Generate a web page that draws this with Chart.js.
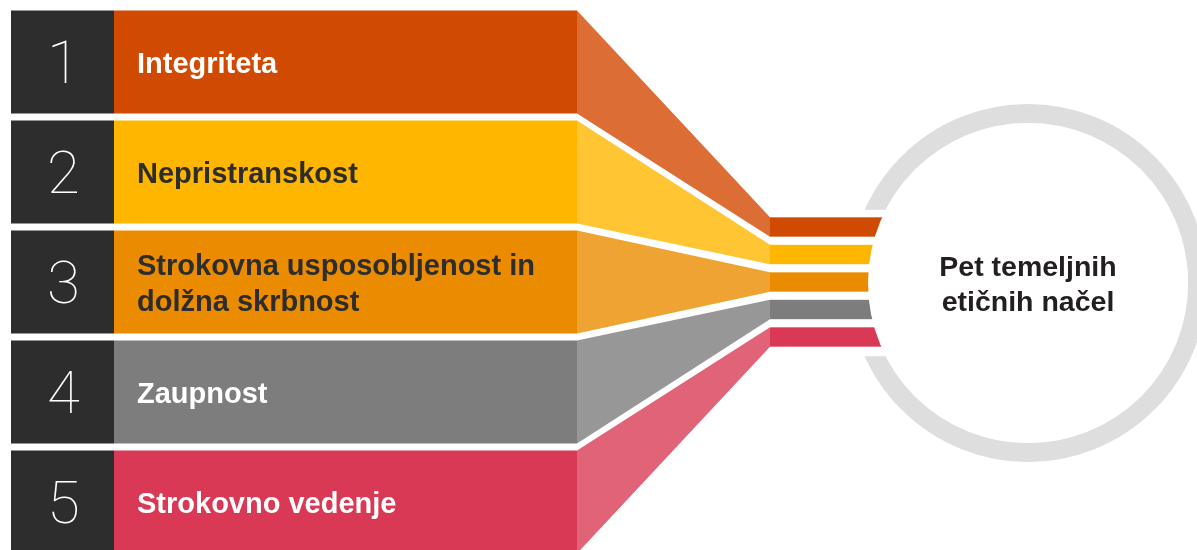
<!DOCTYPE html>
<html>
    <head>
        <meta charset="UTF-8">
        <title>Pet temeljnih etičnih načel</title>
        <script src="https://cdn.jsdelivr.net/npm/chart.js@4/dist/chart.umd.min.js"></script>
        <style>
            html, body{
                margin: 0;
                padding: 0;
                background: #ffffff;
                overflow: hidden;
            }
            .grafica{
                width: 1197px;
                height: 557px;
            }
        </style>
    </head>
    <body>
        <div class="grafica">
            <canvas id="miCanvas"></canvas>
        </div>
        <script>
            // data
            const numbers = ['1', '2', '3', '4', '5'];
            const principles = [
                ['Integriteta'],
                ['Nepristranskost'],
                ['Strokovna usposobljenost in', 'dolžna skrbnost'],
                ['Zaupnost'],
                ['Strokovno vedenje']
            ];
            const centerTitle = ['Pet temeljnih', 'etičnih načel'];

            // styles
            const barColors = ['#d04a02', '#ffb600', '#eb8c00', '#7d7d7d', '#d93954'];
            const fanColors = ['#dc6d35', '#ffc533', '#efa333', '#979797', '#e06377'];
            const textColors = ['#ffffff', '#2d2d2d', '#2d2d2d', '#ffffff', '#ffffff'];
            const darkColor = '#2d2d2d';
            const ringColor = '#dedede';

            // geometry on the x scale (0..1197)
            const NUM_FROM = 11, NUM_TO = 114, BAR_TO = 577, FAN_TO = 770, LABEL_X = 137;
            const HUB_X = 1028, HUB_R = 160, RING_W = 19;
            const HUB_STEP = 0.25, HUB_HALF = 0.088, RING_GAP = 0.665;
            const LABEL_PX = 29, TITLE_PX = 28.5, NUM_PX = 60, LINE_GAP = 36;

            const infographic = {
                id: 'infographic',
                afterDatasetsDraw(chart){
                    const ctx = chart.ctx;
                    const x = chart.scales.x, y = chart.scales.y;
                    const bars = chart.getDatasetMeta(1).data;
                    const mid = (numbers.length - 1) / 2;
                    const cx = x.getPixelForValue(HUB_X);
                    const cy = y.getPixelForValue(mid) + 1;
                    const r = x.getPixelForValue(HUB_X + HUB_R) - cx;
                    const band = y.getPixelForValue(1) - y.getPixelForValue(0);

                    ctx.save();
                    // ring with a cut on the left
                    ctx.strokeStyle = ringColor;
                    ctx.lineWidth = RING_W;
                    ctx.beginPath();
                    ctx.arc(cx, cy, r + RING_W / 2, 0, Math.PI * 2);
                    ctx.stroke();
                    ctx.fillStyle = '#ffffff';
                    ctx.fillRect(cx - r - RING_W - 4, cy - band * RING_GAP, 60, band * RING_GAP * 2);

                    // funnels and hub bars
                    const x0 = x.getPixelForValue(BAR_TO);
                    const x1 = x.getPixelForValue(FAN_TO);
                    bars.forEach((b, i) => {
                        const half = b.height / 2;
                        const hy = y.getPixelForValue(mid + (i - mid) * HUB_STEP);
                        const hh = band * HUB_HALF;
                        ctx.fillStyle = fanColors[i];
                        ctx.beginPath();
                        ctx.moveTo(x0, b.y - half);
                        ctx.lineTo(x1, hy - hh);
                        ctx.lineTo(x1, hy + hh);
                        ctx.lineTo(x0, b.y + half);
                        ctx.closePath();
                        ctx.fill();
                        ctx.fillStyle = barColors[i];
                        ctx.fillRect(x1, hy - hh, cx - x1, hh * 2);
                    });
                    // inner disk trims the hub bars
                    ctx.fillStyle = '#ffffff';
                    ctx.beginPath();
                    ctx.arc(cx, cy, r, 0, Math.PI * 2);
                    ctx.fill();

                    // numbers
                    ctx.textAlign = 'center';
                    ctx.textBaseline = 'alphabetic';
                    ctx.fillStyle = '#ffffff';
                    ctx.font = '100 ' + NUM_PX + 'px Roboto, "Liberation Sans", sans-serif';
                    const nx = (x.getPixelForValue(NUM_FROM) + x.getPixelForValue(NUM_TO)) / 2 + 1;
                    numbers.forEach((n, i) => {
                        ctx.fillText(n, nx, y.getPixelForValue(i) + NUM_PX * 0.711 / 2);
                    });

                    // labels
                    ctx.textAlign = 'left';
                    ctx.font = 'bold ' + LABEL_PX + 'px "Liberation Sans", Arial, sans-serif';
                    const lx = x.getPixelForValue(LABEL_X);
                    principles.forEach((lines, i) => {
                        ctx.fillStyle = textColors[i];
                        const yc = y.getPixelForValue(i) + 0.5;
                        lines.forEach((t, k) => {
                            ctx.fillText(t, lx, yc + (k - (lines.length - 1) / 2) * LINE_GAP + LABEL_PX * 0.716 / 2);
                        });
                    });

                    // center title
                    ctx.textAlign = 'center';
                    ctx.fillStyle = '#231f20';
                    ctx.font = 'bold ' + TITLE_PX + 'px "Liberation Sans", Arial, sans-serif';
                    centerTitle.forEach((t, k) => {
                        ctx.fillText(t, cx, cy + (k - (centerTitle.length - 1) / 2) * 35 + TITLE_PX * 0.716 / 2);
                    });
                    ctx.restore();
                }
            };

            const miCanvas = document.getElementById('miCanvas').getContext('2d');
            window.miCanva = new Chart(miCanvas, {
                type: 'bar',
                data: {
                    labels: principles.map(p => p.join(' ')),
                    datasets: [
                        {
                            label: 'Številka',
                            data: numbers.map(() => [NUM_FROM, NUM_TO]),
                            backgroundColor: darkColor
                        },
                        {
                            label: 'Načelo',
                            data: numbers.map(() => [NUM_TO, BAR_TO]),
                            backgroundColor: barColors
                        }
                    ]
                },
                options: {
                    indexAxis: 'y',
                    responsive: true,
                    maintainAspectRatio: false,
                    animation: false,
                    events: [],
                    layout: {padding: {top: 7, left: 0, right: 0, bottom: 0}},
                    datasets: {
                        bar: {grouped: false, barPercentage: 0.936, categoryPercentage: 1, borderWidth: 0}
                    },
                    plugins: {
                        legend: {display: false},
                        tooltip: {enabled: false}
                    },
                    scales: {
                        x: {type: 'linear', min: 0, max: 1197, display: false},
                        y: {display: false}
                    }
                },
                plugins: [infographic]
            });
        </script>
    </body>
</html>
